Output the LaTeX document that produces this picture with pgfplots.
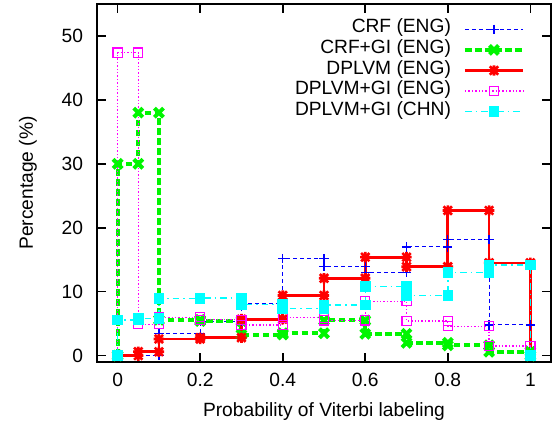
\documentclass[border=0pt]{standalone}
\usepackage{fontspec}
\setmainfont{Liberation Sans}
\usepackage{pgfplots}
\pgfplotsset{compat=1.18}

% gnuplot style star: plus and cross on top of each other
\pgfdeclareplotmark{gpstar}{%
  \pgfpathmoveto{\pgfqpoint{-\pgfplotmarksize}{0pt}}\pgfpathlineto{\pgfqpoint{\pgfplotmarksize}{0pt}}%
  \pgfpathmoveto{\pgfqpoint{0pt}{-\pgfplotmarksize}}\pgfpathlineto{\pgfqpoint{0pt}{\pgfplotmarksize}}%
  \pgfpathmoveto{\pgfqpoint{-.8\pgfplotmarksize}{-.8\pgfplotmarksize}}\pgfpathlineto{\pgfqpoint{.8\pgfplotmarksize}{.8\pgfplotmarksize}}%
  \pgfpathmoveto{\pgfqpoint{-.8\pgfplotmarksize}{.8\pgfplotmarksize}}\pgfpathlineto{\pgfqpoint{.8\pgfplotmarksize}{-.8\pgfplotmarksize}}%
  \pgfusepathqstroke}

\definecolor{gpblue}{RGB}{0,0,255}
\definecolor{gpgreen}{RGB}{0,245,0}
\definecolor{gpred}{RGB}{255,0,0}
\definecolor{gpmag}{RGB}{255,0,255}
\definecolor{gpcyan}{RGB}{0,255,255}

\begin{document}
\begin{tikzpicture}
\begin{axis}[
  name=ax,
  scale only axis,
  width=227pt, height=179pt,
  xmin=-0.05, xmax=1.05,
  ymin=-1, ymax=55,
  xtick={0,0.2,0.4,0.6,0.8,1},
  xticklabels={0,0.2,0.4,0.6,0.8,1},
  ytick={0,10,20,30,40,50},
  tick align=inside,
  tick pos=both,
  major tick length=4.5pt,
  axis line style={line width=0.8pt},
  tick style={line width=0.8pt, black},
  /pgf/number format/assume math mode=true,
  font=\fontsize{9.6}{11}\selectfont,
  tick label style={font=\fontsize{9.6}{11}\selectfont},
  xticklabel style={yshift=-2pt},
  yticklabel style={xshift=-3.5pt},
  xlabel={Probability of Viterbi labeling},
  ylabel={Percentage (\%)},
  xlabel style={at={(axis description cs:0.5,-0.137)}, anchor=center},
  ylabel style={at={(axis description cs:-0.152,0.5)}, anchor=center, rotate=0},
  legend plot pos=right,
  legend cell align=right,
  legend image code/.code={\draw[mark repeat=2,mark phase=2] plot coordinates {(0cm,0cm) (0.51cm,0cm) (1.02cm,0cm)};},
  legend style={at={(1,1)}, anchor=north east, xshift=-13pt, yshift=-7.5pt,
    draw=none, fill=none, inner sep=0pt, outer sep=0pt, column sep=6pt,
    font=\fontsize{9.6}{10.3}\selectfont,
    nodes={inner sep=0pt, text height=7pt, text depth=3.3pt}},
]
% CRF (ENG)
\addplot[gpblue, line width=0.5pt, dash pattern=on 2pt off 1.5pt, mark=+, mark size=2.3pt, mark options={solid, line width=0.6pt}] coordinates {
  (0,0) (0.05,0) (0.1,0) (0.1,3.4) (0.2,3.4) (0.2,5.3) (0.3,5.3) (0.3,8.1) (0.4,8.1)
  (0.4,15.2) (0.5,15.2) (0.5,13.9) (0.6,13.9) (0.6,13.0) (0.7,13.0) (0.7,17.0) (0.8,17.0)
  (0.8,18.1) (0.9,18.1) (0.9,4.8) (1,4.8) (1,0)};
\addlegendentry{CRF (ENG)}
% CRF+GI (ENG)
\addplot[gpgreen, line width=2pt, dash pattern=on 3.3pt off 1.7pt, mark=x, mark size=3.2pt, mark options={solid, line width=2pt}] coordinates {
  (0,0) (0,30) (0.05,30) (0.05,38) (0.1,38) (0.1,5.6) (0.2,5.6) (0.2,5.4) (0.3,5.4)
  (0.3,3.3) (0.4,3.3) (0.4,3.5) (0.5,3.5) (0.5,5.5) (0.6,5.5) (0.6,3.4) (0.7,3.4)
  (0.7,2.0) (0.8,2.0) (0.8,1.6) (0.9,1.6) (0.9,0.6) (1,0.6) (1,0)};
\addlegendentry{CRF+GI (ENG)}
% DPLVM (ENG)
\addplot[gpred, line width=1.4pt, solid, mark=gpstar, mark size=2.6pt, mark options={solid, line width=1.3pt}] coordinates {
  (0,0) (0.05,0) (0.05,0.6) (0.1,0.6) (0.1,2.6) (0.2,2.6) (0.2,2.8) (0.3,2.8)
  (0.3,5.7) (0.4,5.7) (0.4,9.4) (0.5,9.4) (0.5,12.1) (0.6,12.1) (0.6,15.4) (0.7,15.4)
  (0.7,13.9) (0.8,13.9) (0.8,22.7) (0.9,22.7) (0.9,14.5) (1,14.5) (1,0)};
\addlegendentry{DPLVM (ENG)}
% DPLVM+GI (ENG)
\addplot[gpmag, line width=0.6pt, dash pattern=on 0.7pt off 1pt, mark=square, mark size=2.3pt, mark options={solid, line width=0.6pt}] coordinates {
  (0,0) (0,47.4) (0.05,47.4) (0.05,4.9) (0.1,4.9) (0.1,6.0) (0.2,6.0) (0.2,5.6) (0.3,5.6)
  (0.3,4.8) (0.4,4.8) (0.4,5.9) (0.5,5.9) (0.5,5.5) (0.6,5.5) (0.6,8.5) (0.7,8.5)
  (0.7,5.4) (0.8,5.4) (0.8,4.6) (0.9,4.6) (0.9,1.5) (1,1.5) (1,0)};
\addlegendentry{DPLVM+GI (ENG)}
% DPLVM+GI (CHN)
\addplot[gpcyan, line width=0.7pt, dash pattern=on 3.3pt off 2pt on 0.7pt off 2pt, mark=square*, mark size=2.3pt, mark options={solid}] coordinates {
  (0,0) (0,5.6) (0.05,5.6) (0.05,5.8) (0.1,5.8) (0.1,8.9) (0.2,8.9) (0.2,9.0) (0.3,9.0)
  (0.3,8.0) (0.4,8.0) (0.4,7.4) (0.5,7.4) (0.5,7.9) (0.6,7.9) (0.6,10.8) (0.7,10.8)
  (0.7,9.4) (0.8,9.4) (0.8,13.0) (0.9,13.0) (0.9,14.2) (1,14.2) (1,0)};
\addlegendentry{DPLVM+GI (CHN)}
\end{axis}
\path ([shift={(-48.5pt,-33pt)}]ax.south west) rectangle ([shift={(0.5pt,2pt)}]ax.north east);
\end{tikzpicture}
\end{document}
